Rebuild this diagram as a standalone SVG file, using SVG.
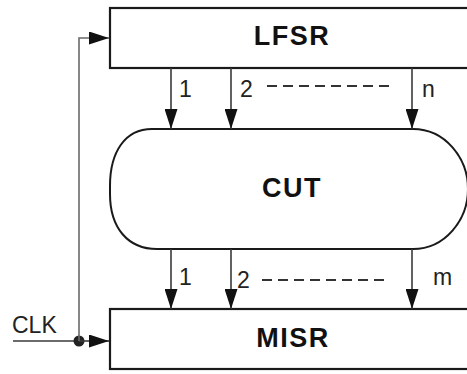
<svg xmlns="http://www.w3.org/2000/svg" width="467" height="374" viewBox="0 0 467 374">
<style>
.box{fill:#fff;stroke:#1a1a1a;stroke-width:2.2}
.cut{fill:#fff;stroke:#1a1a1a;stroke-width:2}
.ln{fill:none;stroke:#3a3a3a;stroke-width:1.6}
.gl{fill:none;stroke:#6a6a6a;stroke-width:1.6}
.dash{fill:none;stroke:#333;stroke-width:1.8;stroke-dasharray:10 6}
.big{font-family:"Liberation Sans",Arial,sans-serif;font-weight:bold;font-size:27px;fill:#111;text-anchor:middle;letter-spacing:1.5px}
.lbl{font-family:"Liberation Sans",Arial,sans-serif;font-size:23px;fill:#222}
</style>
<defs>
<marker id="ah" markerUnits="userSpaceOnUse" markerWidth="20" markerHeight="13" refX="20" refY="6.5" orient="auto">
<path d="M0,0 L20,6.5 L0,13 Z" fill="#111"/>
</marker>
</defs>
<g id="lfsr">
<rect class="box" x="110" y="8" width="365" height="60"/>
<text class="big" x="292" y="45">LFSR</text>
</g>
<g id="cut">
<path class="cut" d="M152,129 H413 C445,129 468,158 468,189 C468,220 445,249 413,249 H157 C128,249 110,228 110,194 V186 C110,152 125,129 152,129 Z"/>
<text class="big" x="292" y="197">CUT</text>
</g>
<g id="misr">
<rect class="box" x="110" y="309" width="365" height="60"/>
<text class="big" x="293" y="347">MISR</text>
</g>
<g id="connectors">
<line class="ln" x1="171" y1="68" x2="171" y2="129" marker-end="url(#ah)"/>
<line class="ln" x1="231" y1="68" x2="231" y2="129" marker-end="url(#ah)"/>
<line class="ln" x1="412" y1="68" x2="412" y2="129" marker-end="url(#ah)"/>
<line class="ln" x1="171" y1="249" x2="171" y2="309" marker-end="url(#ah)"/>
<line class="ln" x1="231" y1="249" x2="231" y2="309" marker-end="url(#ah)"/>
<line class="ln" x1="412" y1="249" x2="412" y2="309" marker-end="url(#ah)"/>
<line class="dash" x1="267" y1="86" x2="395" y2="86"/>
<line class="dash" x1="262" y1="280" x2="390" y2="280"/>
<line class="ln" x1="13" y1="341" x2="79" y2="341"/>
<circle cx="79" cy="341" r="5.5" fill="#222"/>
<line class="ln" x1="79" y1="341" x2="109" y2="341" marker-end="url(#ah)"/>
<polyline class="gl" points="79,341 79,38 109,38" marker-end="url(#ah)"/>
</g>
<g id="labels">
<text class="lbl" x="179" y="97">1</text>
<text class="lbl" x="240" y="97">2</text>
<text class="lbl" x="422" y="97">n</text>
<text class="lbl" x="179" y="285">1</text>
<text class="lbl" x="237" y="288">2</text>
<text class="lbl" x="433" y="285">m</text>
<text class="lbl" x="12" y="333">CLK</text>
</g>
</svg>
